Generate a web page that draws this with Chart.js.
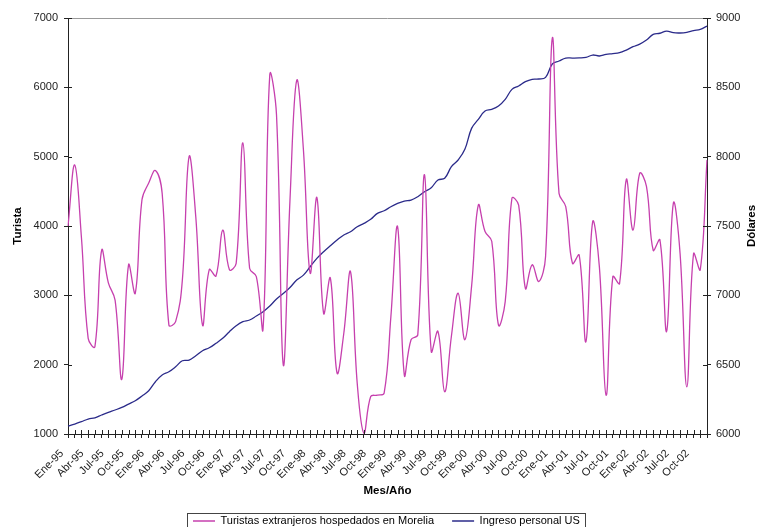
<!DOCTYPE html>
<html>
<head>
<meta charset="utf-8">
<script src="https://cdn.jsdelivr.net/npm/chart.js@4/dist/chart.umd.min.js"></script>
<style>
  body { margin: 0; background: #fff; }
  #wrap { width: 757px; height: 527px; }
</style>
</head>
<body>
<div id="wrap"><canvas id="chart" width="757" height="527"></canvas></div>
<script>
// monthly series Ene-95 .. Dic-02
const meses = ['Ene', 'Feb', 'Mar', 'Abr', 'May', 'Jun', 'Jul', 'Ago', 'Sep', 'Oct', 'Nov', 'Dic'];
const anios = ['95', '96', '97', '98', '99', '00', '01', '02'];
const labels = [];
anios.forEach(a => meses.forEach(m => labels.push(m + '-' + a)));

const turistas = [
    4000, 4880, 3830, 2380, 2260, 3650, 3180, 2930, 1790, 3440, 3030, 4380,
    4620, 4800, 4470, 2570, 2620, 3220, 5000, 4130, 2570, 3370, 3280, 3940,
    3370, 3460, 5200, 3390, 3270, 2520, 6180, 5600, 2000, 4370, 6100, 5100,
    3320, 4410, 2740, 3250, 1880, 2450, 3340, 1730, 1010, 1540, 1560, 1590,
    2690, 3990, 1850, 2360, 2430, 4740, 2190, 2480, 1610, 2410, 3030, 2360,
    3130, 4300, 3920, 3780, 2570, 2910, 4400, 4300, 3100, 3440, 3200, 3560,
    6710, 4470, 4280, 3460, 3580, 2330, 4060, 3410, 1560, 3270, 3170, 4670,
    3940, 4760, 4570, 3650, 3800, 2480, 4330, 3600, 1680, 3600, 3370, 4950
];

const dolares = [
    6058, 6072, 6089, 6108, 6117, 6137, 6156, 6173, 6192, 6216, 6240, 6274,
    6312, 6377, 6425, 6449, 6485, 6528, 6533, 6564, 6600, 6622, 6654, 6690,
    6738, 6780, 6810, 6822, 6851, 6882, 6923, 6973, 7014, 7057, 7110, 7146,
    7206, 7267, 7315, 7358, 7399, 7435, 7459, 7495, 7519, 7548, 7591, 7610,
    7639, 7663, 7680, 7687, 7711, 7747, 7776, 7832, 7844, 7928, 7976, 8053,
    8204, 8269, 8329, 8341, 8365, 8413, 8485, 8510, 8541, 8558, 8560, 8572,
    8668, 8690, 8711, 8711, 8712, 8716, 8733, 8726, 8738, 8743, 8750, 8769,
    8793, 8812, 8841, 8882, 8890, 8906, 8894, 8892, 8897, 8909, 8918, 8942
];

const serieNames = ['Turistas extranjeros hospedados en Morelia', 'Ingreso personal US'];
const ejeX = 'Mes/Año';
const ejeIzq = 'Turista';
const ejeDer = 'Dólares';

const FONT = '"Liberation Sans", Arial, sans-serif';
Chart.defaults.font.family = FONT;
Chart.defaults.font.size = 11;
Chart.defaults.color = '#222';

const TICK = 4;
const titleFont = { size: 11.5, weight: 'bold', lineHeight: 1 };

const extras = {
    id: 'extras',
    afterLayout(chart) {
        // put the legend where the original sits (low, slightly right)
        const lg = chart.legend;
        const p = lg.options.labels.padding;
        const h = lg.height;
        lg.top = 521 - p - 5.5;
        lg.bottom = lg.top + h;
        lg.left = 193 - p;
        lg.right = 757;
    },
    afterDraw(chart) {
        const ctx = chart.ctx;
        const a = chart.chartArea;
        ctx.save();
        // top border of plot area
        ctx.strokeStyle = '#999';
        ctx.lineWidth = 1;
        ctx.beginPath();
        ctx.moveTo(a.left, Math.round(a.top) + 0.5);
        ctx.lineTo(a.right, Math.round(a.top) + 0.5);
        ctx.stroke();

        // inner half of the tick marks
        ctx.strokeStyle = '#222';
        ctx.beginPath();
        const sx = chart.scales.x;
        sx.ticks.forEach((t, i) => {
            const px = Math.round(sx.getPixelForTick(i)) + 0.5;
            ctx.moveTo(px, a.bottom);
            ctx.lineTo(px, a.bottom - TICK);
        });
        const yl = chart.scales.y;
        yl.ticks.forEach((t, i) => {
            const py = Math.round(yl.getPixelForTick(i)) + 0.5;
            ctx.moveTo(a.left, py);
            ctx.lineTo(a.left + TICK, py);
        });
        const yr = chart.scales.y2;
        yr.ticks.forEach((t, i) => {
            const py = Math.round(yr.getPixelForTick(i)) + 0.5;
            ctx.moveTo(a.right, py);
            ctx.lineTo(a.right - TICK, py);
        });
        ctx.stroke();

        // right axis title, reading bottom to top
        ctx.save();
        ctx.translate(752, (a.top + a.bottom) / 2);
        ctx.rotate(-Math.PI / 2);
        ctx.font = 'bold 11.5px ' + FONT;
        ctx.fillStyle = '#000';
        ctx.textAlign = 'center';
        ctx.textBaseline = 'middle';
        ctx.fillText(ejeDer, 0, 0);
        ctx.restore();

        // frame around the legend
        const hb = chart.legend.legendHitBoxes;
        if (hb && hb.length) {
            const last = hb[hb.length - 1];
            const x0 = Math.round(hb[0].left) - 5.5;
            const x1 = Math.round(last.left + last.width) + 5.5;
            ctx.strokeStyle = '#444';
            ctx.strokeRect(x0, 513.5, x1 - x0, 20);
        }
        ctx.restore();
    }
};

new Chart(document.getElementById('chart'), {
    type: 'line',
    data: {
        labels: labels,
        datasets: [{
            label: serieNames[0],
            data: turistas,
            yAxisID: 'y',
            borderColor: '#C640AE',
            backgroundColor: '#C640AE',
            borderWidth: 1.3,
            pointRadius: 0,
            tension: 0.4
        }, {
            label: serieNames[1],
            data: dolares,
            yAxisID: 'y2',
            borderColor: '#2B2B8A',
            backgroundColor: '#2B2B8A',
            borderWidth: 1.3,
            pointRadius: 0,
            tension: 0.4
        }]
    },
    options: {
        responsive: false,
        animation: false,
        layout: { padding: { top: 18, left: 0, right: 0, bottom: 0 } },
        plugins: {
            legend: {
                position: 'bottom',
                align: 'start',
                maxHeight: 30,
                labels: {
                    usePointStyle: true,
                    pointStyle: 'line',
                    pointStyleWidth: 22,
                    padding: 18,
                    color: '#000',
                    font: { size: 11 }
                }
            },
            tooltip: { enabled: false }
        },
        scales: {
            x: {
                afterFit(s) { s.height = 63; },
                grid: { drawOnChartArea: false, tickLength: TICK, color: '#222' },
                border: { color: '#222' },
                ticks: {
                    autoSkip: false,
                    maxRotation: 45,
                    minRotation: 45,
                    padding: 9,
                    labelOffset: -6,
                    callback: (v, i) => (i % 3 === 0 ? labels[i] : '')
                },
                title: {
                    display: true,
                    text: ejeX,
                    color: '#000',
                    font: titleFont,
                    padding: 0
                }
            },
            y: {
                position: 'left',
                min: 1000,
                max: 7000,
                afterFit(s) { s.width = 68; },
                grid: { drawOnChartArea: false, tickLength: TICK, color: '#222' },
                border: { color: '#222' },
                ticks: { stepSize: 1000, padding: 6, callback: v => String(v) },
                title: {
                    display: true,
                    text: ejeIzq,
                    color: '#000',
                    font: titleFont,
                    padding: { top: 12.5, bottom: 0 }
                }
            },
            y2: {
                position: 'right',
                min: 6000,
                max: 9000,
                afterFit(s) { s.width = 50; },
                grid: { drawOnChartArea: false, tickLength: TICK, color: '#222' },
                border: { color: '#222' },
                ticks: { stepSize: 500, padding: 5, callback: v => String(v) }
            }
        }
    },
    plugins: [extras]
});
</script>
</body>
</html>
